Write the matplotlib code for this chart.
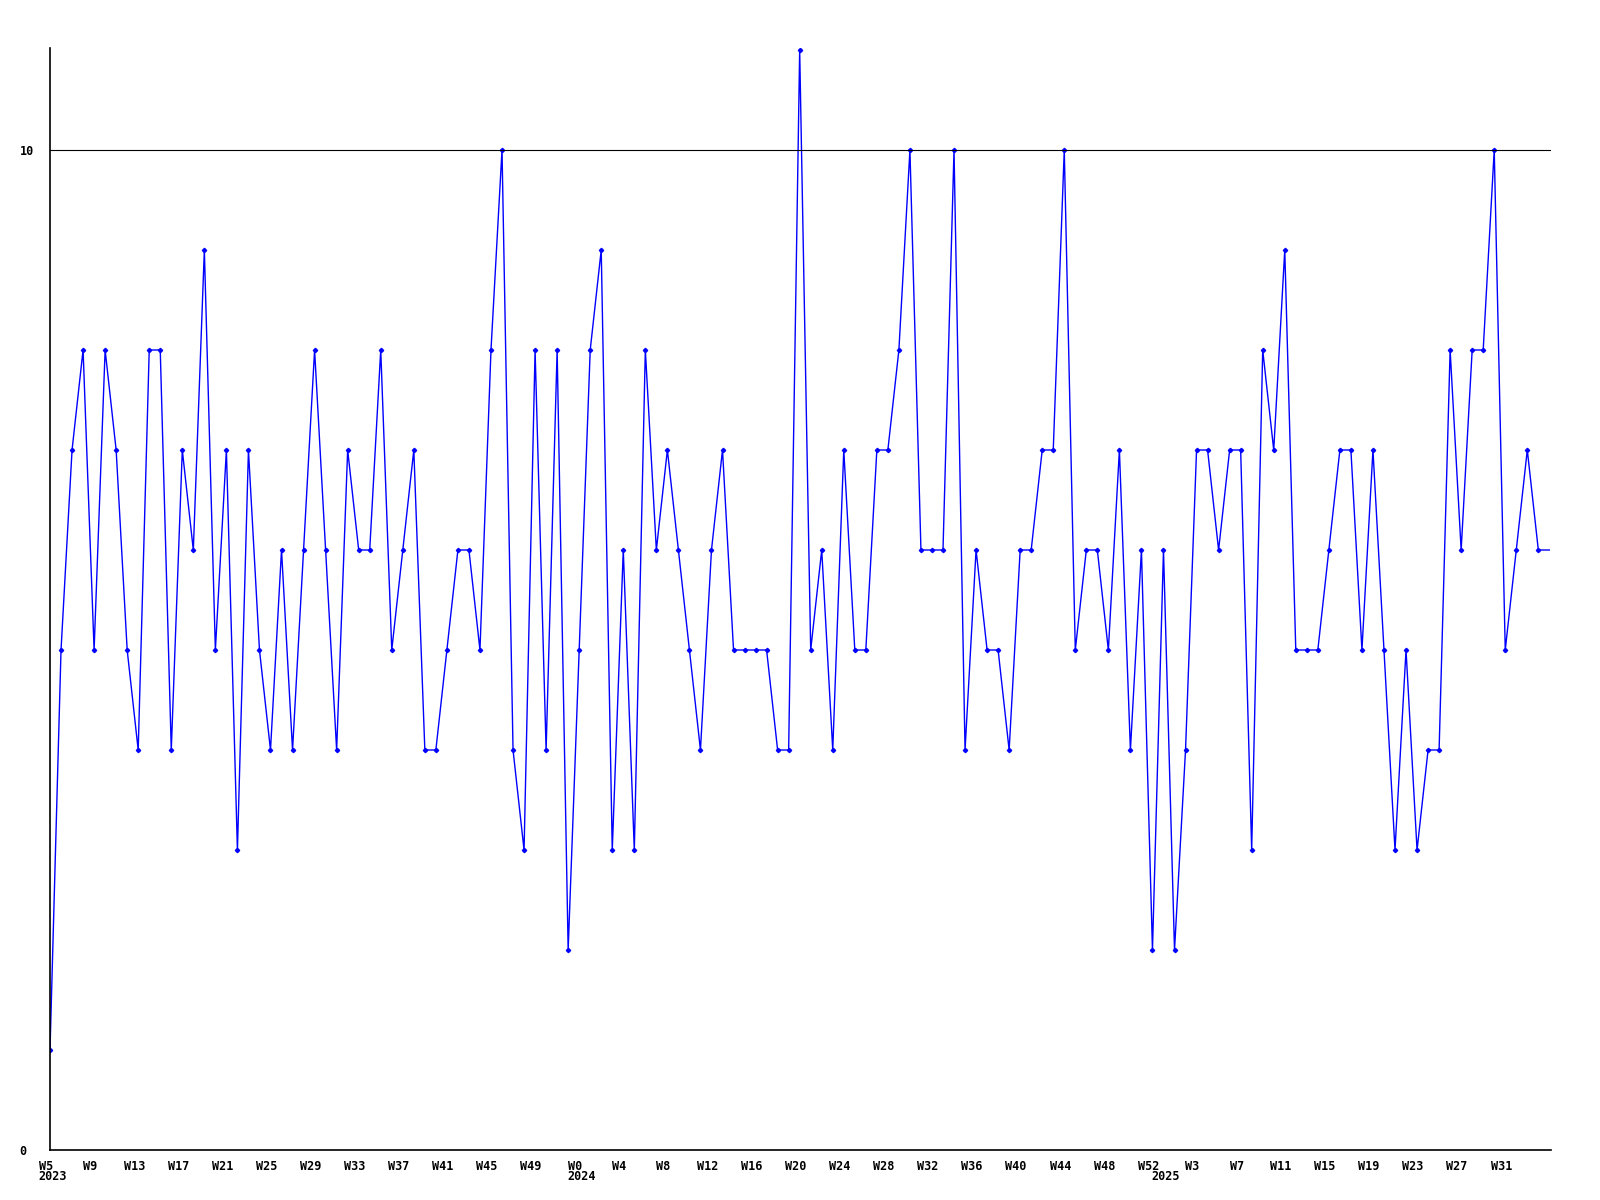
import numpy as np
import matplotlib
matplotlib.use('Agg')
import matplotlib.pyplot as plt
import matplotlib.transforms as mtransforms

# weekly counts, week numbers as in the source (%U style)
weeks_2023 = list(range(5, 53))
values_2023 = [1, 5, 7, 8, 5, 8, 7, 5, 4, 8, 8, 4, 7, 6, 9, 5, 7, 3, 7, 5, 4, 6, 4, 6,
               8, 6, 4, 7, 6, 6, 8, 5, 6, 7, 4, 4, 5, 6, 6, 5, 8, 10, 4, 3, 8, 4, 8, 2]
weeks_2024 = list(range(0, 53))
values_2024 = [5, 8, 9, 3, 6, 3, 8, 6, 7, 6, 5, 4, 6, 7, 5, 5, 5, 5, 4, 4, 11, 5, 6, 4,
               7, 5, 5, 7, 7, 8, 10, 6, 6, 6, 10, 4, 6, 5, 5, 4, 6, 6, 7, 7, 10, 5, 6, 6,
               5, 7, 4, 6, 2]
weeks_2025 = list(range(0, 36))
values_2025 = [6, 2, 4, 7, 7, 6, 7, 7, 3, 8, 7, 9, 5, 5, 5, 6, 7, 7, 5, 7, 5, 3, 5, 3,
               4, 4, 8, 6, 8, 8, 10, 5, 6, 7, 6, 6]

years = ['2023', '2024', '2025']
weeks = weeks_2023 + weeks_2024 + weeks_2025
values = values_2023 + values_2024 + values_2025
year_start = [0, len(weeks_2023), len(weeks_2023) + len(weeks_2024)]

x = np.arange(len(values))

plt.rcParams['font.family'] = 'DejaVu Sans Mono'
plt.rcParams['font.weight'] = 'bold'

fig = plt.figure(figsize=(16, 12), dpi=100)
ax = fig.add_axes([50/1600, 1 - 1150/1200, 1501/1600, 1102/1200])

# last week is still open, drawn without a marker
ax.plot(x, values, color='#0000ff', linewidth=1.0, marker='D', markersize=2.2,
        markevery=list(range(len(values) - 1)))

ax.axhline(10, color='black', linewidth=0.8)

ax.set_xlim(0, len(values) - 1 + 0.15)
ax.set_ylim(0, 11.02)

ax.spines['top'].set_visible(False)
ax.spines['right'].set_visible(False)
ax.spines['left'].set_linewidth(1.2)
ax.spines['bottom'].set_linewidth(1.2)

ticks = x[:-1:4]
ax.set_xticks(ticks)
ax.set_xticklabels(['W%d' % weeks[i] for i in ticks], fontsize=8.5)
ax.set_yticks([0, 10])
ax.set_yticklabels(['0', '10'], fontsize=8.5)
ax.tick_params(axis='x', length=0, pad=7)
ax.tick_params(axis='y', length=0, pad=22)
for lab in ax.get_yticklabels():
    lab.set_horizontalalignment('left')

shift = mtransforms.ScaledTranslation(-4/100, 0, fig.dpi_scale_trans)
for lab in ax.get_xticklabels():
    lab.set_transform(lab.get_transform() + shift)

trans = mtransforms.blended_transform_factory(ax.transData, ax.transAxes)
for yr, i in zip(years, year_start):
    ax.text(i + 0.2, -0.024, yr, transform=trans, ha='center', va='center',
            fontsize=8.5, fontweight='bold')

plt.savefig('out.png', dpi=100)
